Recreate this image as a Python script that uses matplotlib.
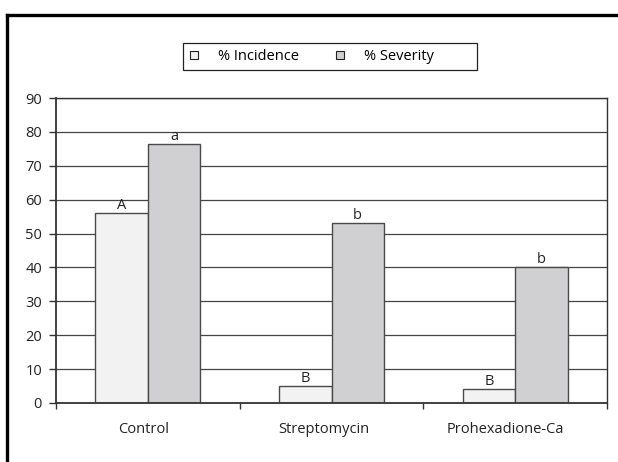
import matplotlib
matplotlib.use("Agg")
import matplotlib.pyplot as plt
import matplotlib.transforms as mtransforms
from matplotlib.lines import Line2D
from matplotlib.patches import Rectangle
import numpy as np

categories = ["Control", "Streptomycin", "Prohexadione-Ca"]
incidence = [56, 5, 4]
severity = [76.5, 53, 40]
inc_letters = ["A", "B", "B"]
sev_letters = ["a", "b", "b"]
yticks = [0, 10, 20, 30, 40, 50, 60, 70, 80, 90]

plt.rcParams['font.family'] = ['Open Sans', 'DejaVu Sans']

W, H = 618, 462
fig = plt.figure(figsize=(W/100, H/100), dpi=100)
L, R, T, B = 56, 607, 98, 403
ax = fig.add_axes([L/W, 1-B/H, (R-L)/W, (B-T)/H])

x = np.arange(len(categories))
bw = 0.285
inc_c = '#f2f2f2'
sev_c = '#d0d0d2'
edge = '#4a4a4a'
fs = 10.5
tc = '#222222'

ax.set_axisbelow(True)
ax.yaxis.grid(True, color='#444444', lw=0.9)
ax.bar(x - bw/2, incidence, bw, color=inc_c, edgecolor=edge, lw=1.0, zorder=2)
ax.bar(x + bw/2, severity, bw, color=sev_c, edgecolor=edge, lw=1.0, zorder=2)

for xi, v, t in zip(x - bw/2, incidence, inc_letters):
    ax.annotate(t, (xi, v), xytext=(0, 0), textcoords='offset points', ha='center', va='bottom', fontsize=fs, color=tc)
for xi, v, t in zip(x + bw/2, severity, sev_letters):
    ax.annotate(t, (xi, v), xytext=(0, 0), textcoords='offset points', ha='center', va='bottom', fontsize=fs, color=tc)

ax.set_xlim(-0.5, len(categories) - 0.5)
ax.set_ylim(0, 90)
ax.set_yticks(yticks)
ax.set_yticklabels([str(v) for v in yticks], fontsize=fs, color=tc)
ax.set_xticks(np.arange(len(categories) + 1) - 0.5)
ax.set_xticklabels([])
ax.tick_params(axis='x', which='major', length=4, width=1, color='#333333', direction='out')
ax.tick_params(axis='y', length=5, width=1, color='#333333', direction='out', pad=5)
for s in ['left', 'bottom']:
    ax.spines[s].set_color('#333333')
    ax.spines[s].set_linewidth(1.3)
for s in ['top', 'right']:
    ax.spines[s].set_color('#333333')
    ax.spines[s].set_linewidth(1.0)

# category labels (baseline 30 px below the axis)
trans = mtransforms.blended_transform_factory(ax.transData, ax.transAxes)
cat_texts = []
for xi, c in zip(x, categories):
    t = ax.text(xi, 0, c, transform=trans + mtransforms.ScaledTranslation(0, -30/100, fig.dpi_scale_trans),
                ha='center', va='baseline', fontsize=fs, color=tc)
    cat_texts.append(t)

# legend
h1 = Line2D([], [], marker='s', ls='', markersize=6, markerfacecolor=inc_c, markeredgecolor='#222222', markeredgewidth=0.8)
h2 = Line2D([], [], marker='s', ls='', markersize=6, markerfacecolor=sev_c, markeredgecolor='#222222', markeredgewidth=0.8)
leg = fig.legend([h1, h2], ['% Incidence', '% Severity'], loc='center left', bbox_to_anchor=(186.7/W, 1-56.5/H),
                 ncol=2, frameon=False, fontsize=fs, columnspacing=2.3,
                 handletextpad=1.15, borderpad=0, handlelength=1.0, borderaxespad=0)
fig.add_artist(Rectangle((183/W, 1-70/H), (477-183)/W, 27/H, transform=fig.transFigure,
                         fill=False, edgecolor='#222222', lw=0.9))

# outer frame
fig.add_artist(Line2D([7/W, 7/W], [-0.05, 1-15/H], transform=fig.transFigure, color='black', lw=2.4, solid_capstyle='projecting'))
fig.add_artist(Line2D([7/W, 1.05], [1-15/H, 1-15/H], transform=fig.transFigure, color='black', lw=2.4, solid_capstyle='projecting'))

# shift category labels slightly left, as in the reference
fig.canvas.draw()
r = fig.canvas.get_renderer()
for t in cat_texts:
    w = t.get_window_extent(r).width
    t.set_transform(t.get_transform() + mtransforms.ScaledTranslation(-0.085 * w / 100, 0, fig.dpi_scale_trans))

fig.savefig('out.png', dpi=100)
